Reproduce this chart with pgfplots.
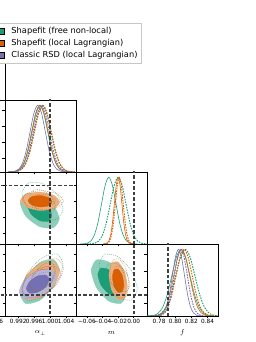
\documentclass[border=0pt]{standalone}
\usepackage{fontspec}
\setmainfont{DejaVu Sans}
\usepackage{pgfplots}
\usepackage{pgfplotstable}
\pgfplotsset{compat=1.18}
\definecolor{cg}{HTML}{1B9E77}
\definecolor{co}{HTML}{D95F02}
\definecolor{cp}{HTML}{7570B3}

% 1D marginals (peak normalised to 1)
\pgfplotstableread{
y aG aO aP aGd aOd aPd
0.0003 0.9894 0.9895 0.9893 0.9897 0.9898 0.9898
0.0111 0.9914 0.9915 0.9912 0.9918 0.9919 0.9918
0.0439 0.9924 0.9925 0.99215 0.99285 0.99295 0.9928
0.1353 0.9934 0.9935 0.9931 0.9939 0.9940 0.9938
0.3247 0.9944 0.9945 0.99405 0.99495 0.99505 0.9948
0.6065 0.9954 0.9955 0.9950 0.9960 0.9961 0.9958
0.8825 0.9964 0.9965 0.99595 0.99705 0.99715 0.9968
1 0.9974 0.9975 0.9969 0.9981 0.9982 0.9978
0.8825 0.9984 0.9985 0.99785 0.99915 0.99925 0.9988
0.6065 0.9994 0.9995 0.9988 1.0002 1.0003 0.9998
0.3247 1.0004 1.0005 0.99975 1.00125 1.00135 1.0008
0.1353 1.0014 1.0015 1.0007 1.0023 1.0024 1.0018
0.0439 1.0024 1.0025 1.00165 1.00335 1.00345 1.0028
0.0111 1.0034 1.0035 1.0026 1.0044 1.0045 1.0038
0.0003 1.0054 1.0055 1.0045 1.0065 1.0066 1.0058
}\tA
\pgfplotstableread{
y mG mO mGd mOd
0.0003 -0.0688 -0.0392 -0.060 -0.0385
0.0111 -0.0596 -0.0344 -0.050 -0.0335
0.0439 -0.055 -0.032 -0.045 -0.031
0.1353 -0.0504 -0.0296 -0.040 -0.0285
0.3247 -0.0458 -0.0272 -0.035 -0.026
0.6065 -0.0412 -0.0248 -0.030 -0.0235
0.8825 -0.0366 -0.0224 -0.025 -0.021
1 -0.032 -0.020 -0.020 -0.0185
0.8825 -0.0274 -0.0176 -0.015 -0.016
0.6065 -0.0228 -0.0152 -0.010 -0.0135
0.3247 -0.0182 -0.0128 -0.005 -0.011
0.1353 -0.0136 -0.0104 0.0 -0.0085
0.0439 -0.009 -0.008 0.005 -0.006
0.0111 -0.0044 -0.0056 0.010 -0.0035
0.0003 0.0048 -0.0008 0.020 0.0015
}\tM
\pgfplotstableread{
y fG fO fP fGd fOd fPd
0.0003 0.7622 0.7688 0.774 0.7653 0.771 0.775
0.0111 0.7734 0.7786 0.7815 0.7771 0.781 0.783
0.0439 0.779 0.7835 0.78525 0.783 0.786 0.787
0.1353 0.7846 0.7884 0.789 0.7889 0.791 0.791
0.3247 0.7902 0.7933 0.79275 0.7948 0.796 0.795
0.6065 0.7958 0.7982 0.7965 0.8007 0.801 0.799
0.8825 0.8014 0.8031 0.80025 0.8066 0.806 0.803
1 0.807 0.808 0.804 0.8125 0.811 0.807
0.8825 0.8126 0.8129 0.80775 0.8184 0.816 0.811
0.6065 0.8182 0.8178 0.8115 0.8243 0.821 0.815
0.3247 0.8238 0.8227 0.81525 0.8302 0.826 0.819
0.1353 0.8294 0.8276 0.819 0.8361 0.831 0.823
0.0439 0.835 0.8325 0.82275 0.842 0.836 0.827
0.0111 0.8406 0.8374 0.8265 0.8479 0.841 0.831
0.0003 0.8518 0.8472 0.834 0.8597 0.851 0.839
}\tF

% 2D contours: m vs alpha_perp
\pgfplotstableread{
gfx gfy gix giy ofx ofy oix oiy gdx gdy gex gey odx ody oex oey
1.0023 -0.0421 1.00044 -0.0383 1.0024 -0.0212 1.00054 -0.0207 1.00325 -0.0298 1.00129 -0.0261 1.00335 -0.0197 1.00139 -0.0192
1.00086 -0.0249 0.99955 -0.0276 1.00096 -0.0126 0.99965 -0.0154 1.00174 -0.0111 1.00036 -0.0145 1.00184 -0.0109 1.00046 -0.0138
0.9974 -0.0119 0.9974 -0.0195 0.9975 -0.0083 0.9975 -0.0127 0.9981 0.0025 0.9981 -0.0061 0.9982 -0.0066 0.9982 -0.0111
0.99394 -0.0106 0.99525 -0.0187 0.99404 -0.0109 0.99535 -0.0144 0.99446 0.0028 0.99584 -0.0059 0.99456 -0.0092 0.99594 -0.0127
0.9925 -0.0219 0.99436 -0.0257 0.9926 -0.0188 0.99446 -0.0193 0.99296 -0.0102 0.99491 -0.0139 0.99305 -0.0173 0.99501 -0.0178
0.99394 -0.0391 0.99525 -0.0364 0.99404 -0.0274 0.99535 -0.0246 0.99446 -0.0289 0.99584 -0.0256 0.99456 -0.0261 0.99594 -0.0232
0.9974 -0.0521 0.9974 -0.0445 0.9975 -0.0317 0.9975 -0.0273 0.9981 -0.0425 0.9981 -0.0339 0.9982 -0.0305 0.9982 -0.0259
1.00086 -0.0534 0.99955 -0.0453 1.00096 -0.0291 0.99965 -0.0257 1.00174 -0.0428 1.00036 -0.0342 1.00184 -0.0278 1.00046 -0.0243
}\eA
% f vs alpha_perp
\pgfplotstableread{
gfx gfy gix giy ofx ofy oix oiy pfx pfy pix piy gdx gdy gex gey odx ody oex oey pdx pdy pex pey
1.0023 0.8221 1.00044 0.8164 1.0024 0.8200 1.00054 0.8155 1.00156 0.8132 0.99979 0.8097 1.00325 0.8284 1.00129 0.8224 1.00335 0.8233 1.00139 0.8186 1.0027 0.8168 1.00084 0.8131
1.00086 0.8339 0.99955 0.8237 1.00096 0.8312 0.99965 0.8224 1.00019 0.8218 0.99894 0.8150 1.00174 0.8408 1.00036 0.8301 1.00184 0.8347 1.00046 0.8257 1.00126 0.8259 0.99995 0.8188
0.9974 0.8299 0.9974 0.8212 0.9975 0.8288 0.9975 0.8209 0.9969 0.8199 0.9969 0.8139 0.9981 0.8366 0.9981 0.8275 0.9982 0.8322 0.9982 0.8242 0.9978 0.8240 0.9978 0.8175
0.99394 0.8125 0.99525 0.8104 0.99404 0.8142 0.99535 0.8119 0.99361 0.8088 0.99486 0.8070 0.99446 0.8183 0.99584 0.8161 0.99456 0.8174 0.99594 0.8149 0.99434 0.8121 0.99565 0.8102
0.9925 0.7919 0.99436 0.7976 0.9926 0.7960 0.99446 0.8006 0.99225 0.7948 0.99401 0.7983 0.99296 0.7966 0.99491 0.8026 0.99305 0.7988 0.99501 0.8034 0.9929 0.7972 0.99476 0.8009
0.99394 0.7801 0.99525 0.7903 0.99404 0.7848 0.99535 0.7936 0.99361 0.7863 0.99486 0.7930 0.99446 0.7842 0.99584 0.7949 0.99456 0.7873 0.99594 0.7963 0.99434 0.7881 0.99565 0.7953
0.9974 0.7841 0.9974 0.7928 0.9975 0.7872 0.9975 0.7951 0.9969 0.7881 0.9969 0.7941 0.9981 0.7884 0.9981 0.7975 0.9982 0.7898 0.9982 0.7978 0.9978 0.7900 0.9978 0.7965
1.00086 0.8015 0.99955 0.8036 1.00096 0.8018 0.99965 0.8041 1.00019 0.7992 0.99894 0.8011 1.00174 0.8067 1.00036 0.8089 1.00184 0.8047 1.00046 0.8071 1.00126 0.8019 0.99995 0.8039
}\eB
% f vs m
\pgfplotstableread{
gfx gfy gix giy ofx ofy oix oiy gdx gdy gex gey odx ody oex oey
-0.0095 0.7933 -0.0180 0.7985 -0.0082 0.8008 -0.0127 0.8035 0.0045 0.7980 -0.0048 0.8035 -0.0063 0.8037 -0.0109 0.8064
-0.0161 0.8141 -0.0221 0.8114 -0.0117 0.8191 -0.0148 0.8149 -0.0027 0.8200 -0.0093 0.8172 -0.0098 0.8223 -0.0131 0.8180
-0.032 0.8308 -0.032 0.8217 -0.020 0.8309 -0.020 0.8222 -0.020 0.8375 -0.020 0.8280 -0.0185 0.8344 -0.0185 0.8255
-0.0479 0.8335 -0.0419 0.8235 -0.0283 0.8293 -0.0252 0.8212 -0.0373 0.8404 -0.0308 0.8298 -0.0272 0.8327 -0.0239 0.8245
-0.0545 0.8207 -0.0460 0.8155 -0.0318 0.8152 -0.0273 0.8125 -0.0445 0.8270 -0.0352 0.8215 -0.0308 0.8184 -0.0261 0.8156
-0.0479 0.7999 -0.0419 0.8026 -0.0283 0.7969 -0.0252 0.8011 -0.0373 0.8050 -0.0308 0.8079 -0.0272 0.7997 -0.0239 0.8040
-0.032 0.7832 -0.032 0.7923 -0.020 0.7851 -0.020 0.7938 -0.020 0.7875 -0.020 0.7970 -0.0185 0.7876 -0.0185 0.7965
-0.0161 0.7805 -0.0221 0.7906 -0.0117 0.7867 -0.0148 0.7948 -0.0027 0.7846 -0.0093 0.7952 -0.0098 0.7893 -0.0131 0.7975
}\eC

\pgfplotsset{
  panel/.style={scale only axis, width=71bp, height=72bp, anchor=south west,
    scaled ticks=false,
    tick align=outside, tick pos=left, major tick length=2.5bp,
    axis line style={line width=0.6bp, black},
    major tick style={line width=0.5bp, black},
    xticklabels={}, yticklabels={},
    tick label style={font=\fontsize{5.8}{6}\selectfont, inner sep=1bp},
    x label style={at={(axis description cs:0.5,0)}, anchor=center, yshift=-17bp, font=\fontsize{7.5}{8}\selectfont}},
  sl/.style={#1, line width=0.6bp, smooth},
  dl/.style={#1, line width=0.9bp, smooth, dash pattern=on 1.6bp off 1.1bp},
  f95/.style={fill=#1!50!white, draw=#1!55!white, line width=0.3bp, smooth cycle, tension=0.38},
  f68/.style={fill=#1, draw=#1, line width=0.3bp, smooth cycle, tension=0.38},
  dc/.style={draw=#1, line width=0.4bp, dash pattern=on 1bp off 1bp, smooth cycle, tension=0.38, opacity=0.8},
  truth/.style={black!75, line width=1.6bp, dash pattern=on 3.5bp off 2bp},
}

\begin{document}
\begin{tikzpicture}
\useasboundingbox (0bp,0bp) rectangle (256bp,342bp);
\clip (0bp,0bp) rectangle (256bp,342bp);

% cropped first column
\begin{axis}[panel, at={(-66bp,242bp)}, xmin=0, xmax=1, ymin=0, ymax=1, xtick=\empty, ytick=\empty]
\end{axis}
\begin{axis}[panel, at={(-66bp,170bp)}, xmin=0, xmax=1, ymin=0, ymax=1, xtick=\empty, ytick=\empty]
\end{axis}
\begin{axis}[panel, at={(-66bp,98bp)}, xmin=0, xmax=1, ymin=-0.074, ymax=0.017, xtick=\empty, ytick=\empty]
\addplot[truth] coordinates {(-1,0) (2,0)};
\end{axis}
\begin{axis}[panel, at={(-66bp,26bp)}, xmin=0, xmax=1, ymin=0.765, ymax=0.853, xtick={0.856}, xticklabels={1.016}, ytick=\empty]
\addplot[truth] coordinates {(-1,0.791) (2,0.791)};
\end{axis}

% alpha_perp 1D
\begin{axis}[panel, at={(5bp,170bp)}, xmin=0.9887, xmax=1.0065, ymin=0, ymax=1.08,
  xtick={0.992,0.996,1.000,1.004}, ytick={0.2,0.443,0.686,0.928}]
\addplot[sl=cg] table[x=aG,y=y]{\tA};
\addplot[sl=co] table[x=aO,y=y]{\tA};
\addplot[sl=cp] table[x=aP,y=y]{\tA};
\addplot[dl=cg] table[x=aGd,y=y]{\tA};
\addplot[dl=co] table[x=aOd,y=y]{\tA};
\addplot[dl=cp] table[x=aPd,y=y]{\tA};
\addplot[truth] coordinates {(1,-1) (1,2)};
\end{axis}

% m vs alpha_perp
\begin{axis}[panel, at={(5bp,98bp)}, xmin=0.9887, xmax=1.0065, ymin=-0.074, ymax=0.017,
  xtick={0.992,0.996,1.000,1.004}, ytick={-0.06,-0.04,-0.02,0}]
\addplot[f95=cg] table[x=gfx,y=gfy]{\eA};
\addplot[f68=cg] table[x=gix,y=giy]{\eA};
\addplot[f95=co] table[x=ofx,y=ofy]{\eA};
\addplot[f68=co] table[x=oix,y=oiy]{\eA};
\addplot[dc=cg] table[x=gdx,y=gdy]{\eA};
\addplot[dc=cg] table[x=gex,y=gey]{\eA};
\addplot[dc=co] table[x=odx,y=ody]{\eA};
\addplot[dc=co] table[x=oex,y=oey]{\eA};
\addplot[truth] coordinates {(1,-1) (1,1)};
\addplot[truth] coordinates {(0.98,0) (1.02,0)};
\end{axis}

% f vs alpha_perp
\begin{axis}[panel, at={(5bp,26bp)}, xmin=0.9887, xmax=1.0065, ymin=0.765, ymax=0.853,
  xtick={0.992,0.996,1.000,1.004}, xticklabels={0.992,0.996,1.000,1.004},
  ytick={0.78,0.80,0.82,0.84}, xlabel={$\alpha_\perp$}]
\addplot[f95=cg] table[x=gfx,y=gfy]{\eB};
\addplot[f68=cg] table[x=gix,y=giy]{\eB};
\addplot[f95=co] table[x=ofx,y=ofy]{\eB};
\addplot[f68=co] table[x=oix,y=oiy]{\eB};
\addplot[f95=cp] table[x=pfx,y=pfy]{\eB};
\addplot[f68=cp] table[x=pix,y=piy]{\eB};
\addplot[dc=cg] table[x=gdx,y=gdy]{\eB};
\addplot[dc=cg] table[x=gex,y=gey]{\eB};
\addplot[dc=co] table[x=odx,y=ody]{\eB};
\addplot[dc=co] table[x=oex,y=oey]{\eB};
\addplot[dc=cp] table[x=pdx,y=pdy]{\eB};
\addplot[dc=cp] table[x=pex,y=pey]{\eB};
\addplot[truth] coordinates {(1,0.7) (1,0.9)};
\addplot[truth] coordinates {(0.98,0.791) (1.02,0.791)};
\end{axis}

% m 1D
\begin{axis}[panel, at={(76bp,98bp)}, xmin=-0.074, xmax=0.017, ymin=0, ymax=1.08,
  xtick={-0.06,-0.04,-0.02,0}, ytick={0.166,0.404,0.641,0.878}]
\addplot[sl=cg] table[x=mG,y=y]{\tM};
\addplot[sl=co] table[x=mO,y=y]{\tM};
\addplot[dl=cg] table[x=mGd,y=y]{\tM};
\addplot[dl=co] table[x=mOd,y=y]{\tM};
\addplot[truth] coordinates {(0,-1) (0,2)};
\end{axis}

% f vs m
\begin{axis}[panel, at={(76bp,26bp)}, xmin=-0.074, xmax=0.017, ymin=0.765, ymax=0.853,
  xtick={-0.06,-0.04,-0.02,0}, xticklabels={−0.06,−0.04,−0.02,0.00},
  ytick={0.78,0.80,0.82,0.84}, xlabel={$m$}]
\addplot[f95=cg] table[x=gfx,y=gfy]{\eC};
\addplot[f68=cg] table[x=gix,y=giy]{\eC};
\addplot[f95=co] table[x=ofx,y=ofy]{\eC};
\addplot[f68=co] table[x=oix,y=oiy]{\eC};
\addplot[dc=cg] table[x=gdx,y=gdy]{\eC};
\addplot[dc=cg] table[x=gex,y=gey]{\eC};
\addplot[dc=co] table[x=odx,y=ody]{\eC};
\addplot[dc=co] table[x=oex,y=oey]{\eC};
\addplot[truth] coordinates {(0,0.7) (0,0.9)};
\addplot[truth] coordinates {(-0.1,0.791) (0.05,0.791)};
\end{axis}

% f 1D with legend
\begin{axis}[panel, at={(147bp,26bp)}, xmin=0.765, xmax=0.853, ymin=0, ymax=1.08,
  xtick={0.78,0.80,0.82,0.84}, xticklabels={0.78,0.80,0.82,0.84},
  ytick={0.184,0.43,0.675,0.92}, xlabel={$f$},
  legend cell align=left,
  legend image code/.code={\fill[#1] (0bp,-2.9bp) rectangle (16.6bp,2.9bp);},
  legend style={at={(axis description cs:-0.0704,4.0694)}, anchor=north east,
    draw=black!22, line width=0.6bp, fill=white,
    font=\fontsize{8.3}{10}\selectfont, inner sep=3.7bp, row sep=2.35bp, column sep=6bp,
    nodes={inner sep=0.5bp, text height=6.3bp, text depth=2bp, anchor=west}}]
\addlegendimage{fill=cg}
\addlegendimage{fill=co}
\addlegendimage{fill=cp}
\addplot[sl=cg] table[x=fG,y=y]{\tF};
\addplot[sl=co] table[x=fO,y=y]{\tF};
\addplot[sl=cp] table[x=fP,y=y]{\tF};
\addplot[dl=cg] table[x=fGd,y=y]{\tF};
\addplot[dl=co] table[x=fOd,y=y]{\tF};
\addplot[dl=cp] table[x=fPd,y=y]{\tF};
\addplot[truth] coordinates {(0.791,-1) (0.791,2)};
\legend{Shapefit (free non-local),Shapefit (local Lagrangian),Classic RSD (local Lagrangian)}
\end{axis}
\end{tikzpicture}
\end{document}
